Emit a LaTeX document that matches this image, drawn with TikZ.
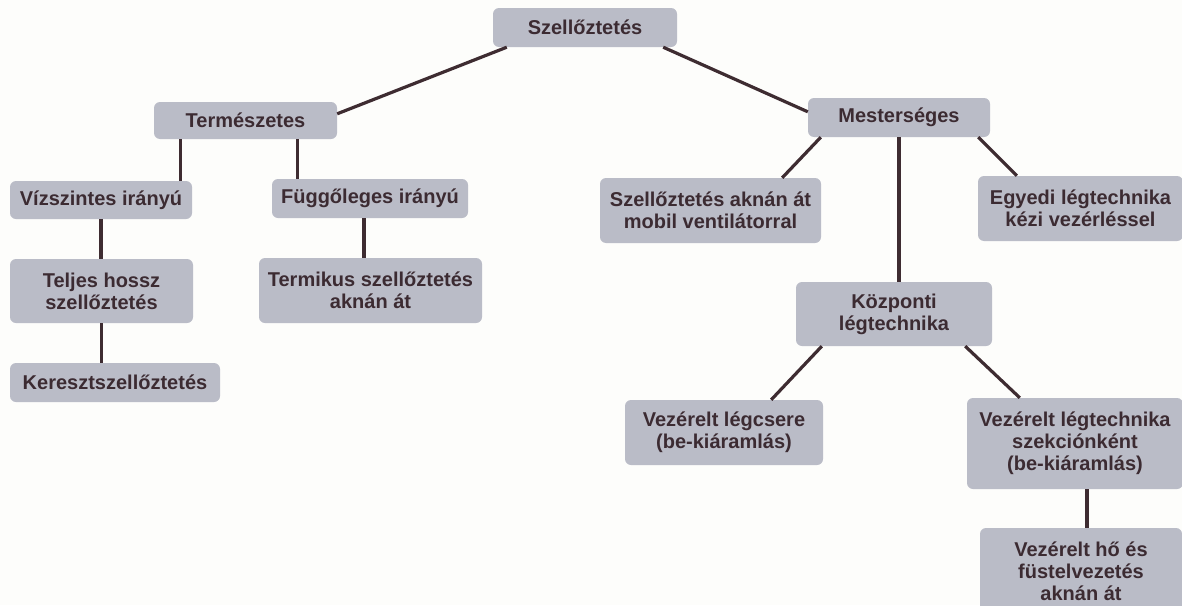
\documentclass[tikz,border=0pt]{standalone}
\usepackage{fontspec}
\setmainfont{Liberation Sans}
\definecolor{boxfill}{RGB}{186,188,199}
\definecolor{ink}{RGB}{60,43,50}
\definecolor{wire}{RGB}{62,44,49}
\definecolor{paper}{RGB}{253,253,251}
\begin{document}
\begin{tikzpicture}[x=1pt,y=-1pt,
  box/.style={fill=boxfill, rounded corners=6pt, inner sep=0pt, align=center,
    text=ink, font=\fontsize{20}{22}\selectfont\bfseries},
  wirestyle/.style={draw=wire, line width=3.2pt}]
\useasboundingbox (0,0) rectangle (1182,605);
\fill[paper] (0,0) rectangle (1182,605);
% nodes
\node[box, minimum width=184pt, minimum height=39pt] (root) at (585,27.5) {Szellőztetés};
\node[box, minimum width=183pt, minimum height=37pt] (nat) at (245.5,120.5) {Természetes};
\node[box, minimum width=182pt, minimum height=39pt] (art) at (899,117.5) {Mesterséges};
\node[box, minimum width=182pt, minimum height=38pt] (horiz) at (101,200) {Vízszintes irányú};
\node[box, minimum width=196pt, minimum height=39pt] (vert) at (370,198.5) {Függőleges irányú};
\node[box, minimum width=183pt, minimum height=64pt] (teljes) at (101.5,291) {Teljes hossz\\szellőztetés};
\node[box, minimum width=223pt, minimum height=65pt] (termikus) at (370.5,290.5) {Termikus szellőztetés\\aknán át};
\node[box, minimum width=210pt, minimum height=39pt] (kereszt) at (115,382.5) {Keresztszellőztetés};
\node[box, minimum width=221pt, minimum height=65pt] (mobil) at (710.5,210.5) {Szellőztetés aknán át\\mobil ventilátorral};
\node[box, minimum width=205pt, minimum height=65pt] (egyedi) at (1080.5,208.5) {Egyedi légtechnika\\kézi vezérléssel};
\node[box, minimum width=196pt, minimum height=64pt] (kozp) at (894,314) {Központi\\légtechnika};
\node[box, minimum width=198pt, minimum height=65pt] (legcsere) at (724,432.5) {Vezérelt légcsere\\(be-kiáramlás)};
\node[box, minimum width=216pt, minimum height=91pt] (szekcio) at (1075,443.5) {Vezérelt légtechnika\\szekciónként\\(be-kiáramlás)};
\node[box, minimum width=202pt, minimum height=86pt] (ho) at (1081,571) {Vezérelt hő és\\füstelvezetés\\aknán át};
% connectors
\draw[wirestyle] ([xshift=14pt]root.south west) -- ([yshift=-12pt]nat.north east);
\draw[wirestyle] ([xshift=-14pt]root.south east) -- ([yshift=-14pt]art.north west);
\draw[wirestyle] ([xshift=27pt]nat.south west) -- ([xshift=27pt]nat.south west |- horiz.north);
\draw[wirestyle] ([xshift=144pt]nat.south west) -- ([xshift=144pt]nat.south west |- vert.north);
\draw[wirestyle] (horiz.south) -- (horiz.south |- teljes.north);
\draw[wirestyle] (teljes.south) -- (teljes.south |- kereszt.north);
\draw[wirestyle] ([xshift=-6pt]vert.south) -- ([xshift=-6pt]vert.south |- termikus.north);
\draw[wirestyle] ([xshift=13pt]art.south west) -- ([xshift=-39pt]mobil.north east);
\draw[wirestyle] ([xshift=-12pt]art.south east) -- ([xshift=39pt]egyedi.north west);
\draw[wirestyle] (art.south) -- (art.south |- kozp.north);
\draw[wirestyle] ([xshift=26pt]kozp.south west) -- ([xshift=-52pt]legcsere.north east);
\draw[wirestyle] ([xshift=-27pt]kozp.south east) -- ([xshift=53pt]szekcio.north west);
\draw[wirestyle] ([xshift=12pt]szekcio.south) -- ([xshift=12pt]szekcio.south |- ho.north);
\end{tikzpicture}
\end{document}
